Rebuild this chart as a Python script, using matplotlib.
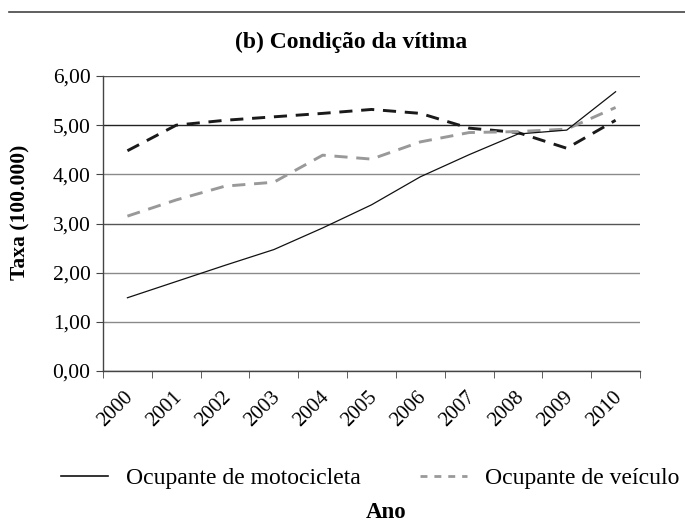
import numpy as np
import matplotlib.pyplot as plt
import matplotlib.transforms as mtransforms
from matplotlib.lines import Line2D

anos = ["2000", "2001", "2002", "2003", "2004", "2005",
        "2006", "2007", "2008", "2009", "2010"]
motocicleta = [1.49, 1.82, 2.15, 2.47, 2.91, 3.38, 3.95, 4.40, 4.82, 4.90, 5.68]
veiculo = [3.15, 3.48, 3.76, 3.84, 4.39, 4.31, 4.66, 4.85, 4.87, 4.92, 5.36]
pedestre = [4.48, 5.00, 5.10, 5.17, 5.24, 5.32, 5.24, 4.94, 4.85, 4.53, 5.10]
yticks = [0, 1, 2, 3, 4, 5, 6]
grid_cores = ["#444444", "#8a8a8a", "#8a8a8a", "#555555", "#8a8a8a", "#222222", "#555555"]

plt.rcParams["font.family"] = ["Liberation Serif", "DejaVu Serif"]

fig = plt.figure(figsize=(6.85, 5.21), dpi=100)
ax = fig.add_axes([0.1504, 0.2879, 0.7839, 0.5662])

x = np.arange(len(anos))
ax.plot(x, pedestre, color="#1a1a1a", lw=2.1, dashes=(4.5, 3))
ax.plot(x, veiculo, color="#999999", lw=2.1, dashes=(4.5, 3))
ax.plot(x, motocicleta, color="#111111", lw=0.9)

ax.set_xlim(-0.5, len(anos) - 0.5)
ax.set_ylim(0, 6)
ax.set_yticks(yticks)
ax.set_yticklabels([f"{v:.2f}".replace(".", ",") for v in yticks], fontsize=15.5)
ax.yaxis.grid(True, lw=1.0)
for gl, c in zip(ax.get_ygridlines(), grid_cores):
    gl.set_color(c)
ax.set_axisbelow(True)

ax.set_xticks(x)
ax.set_xticklabels(anos, rotation=45, ha="right", va="top", fontsize=15)
ax.set_xticks(np.arange(-0.5, len(anos)), minor=True)
ax.tick_params(axis="x", which="major", length=0, pad=12)
ax.tick_params(axis="x", which="minor", length=5, color="#444444", direction="out")
ax.tick_params(axis="y", length=5, color="#444444", direction="out", pad=4)
offset = mtransforms.ScaledTranslation(10 / 100, 0, fig.dpi_scale_trans)
for lbl in ax.get_xticklabels():
    lbl.set_transform(lbl.get_transform() + offset)

for s in ["top", "right"]:
    ax.spines[s].set_visible(False)
for s in ["left", "bottom"]:
    ax.spines[s].set_color("#444444")
    ax.spines[s].set_linewidth(1.0)

fig.add_artist(Line2D([9 / 685, 1], [1 - 12 / 521, 1 - 12 / 521],
                      color="#444444", lw=1.2))
fig.text(351 / 685, 1 - 42 / 521, "(b) Condição da vítima", ha="center",
         va="center", fontsize=17, fontweight="bold")
fig.text(20 / 685, 1 - 212 / 521, "Taxa (100.000)", rotation=90, ha="center",
         va="center", fontsize=15.5, fontweight="bold")
fig.text(386 / 685, 1 - 512 / 521, "Ano", ha="center", va="center",
         fontsize=16.5, fontweight="bold")

handles = [Line2D([], [], color="#111111", lw=1.2),
           Line2D([], [], color="#999999", lw=2.0, dashes=(2.5, 2.5))]
fig.legend(handles, ["Ocupante de motocicleta", "Ocupante de veículo"],
           loc="center left", bbox_to_anchor=(40 / 685, 1 - 478 / 521),
           ncol=2, frameon=False, fontsize=17, handlelength=2.0,
           handletextpad=0.75, columnspacing=2.5)

fig.savefig("out.png", dpi=100)
